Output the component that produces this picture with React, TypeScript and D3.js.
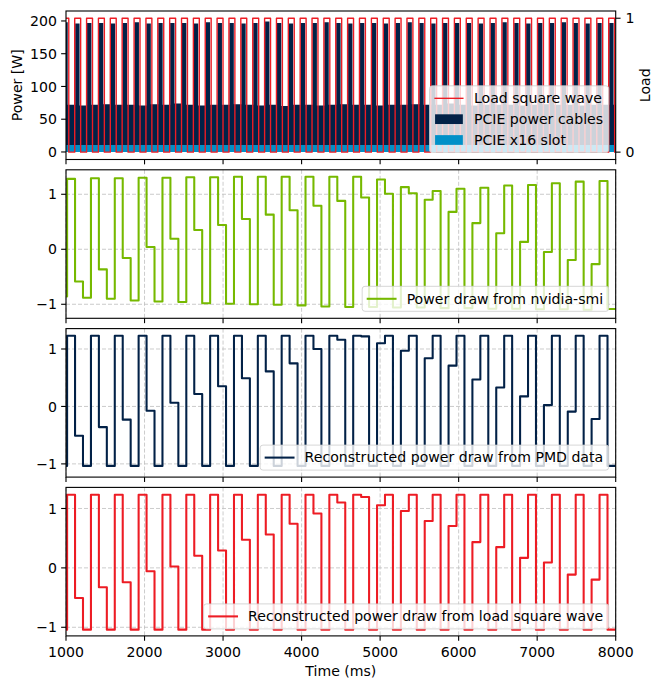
import React from "react";
import * as d3 from "d3";

// ---- data ----
const X_TICKS = [1000, 2000, 3000, 4000, 5000, 6000, 7000, 8000];
const POWER_TICKS = [0, 50, 100, 150, 200];
const LOAD_TICKS = [0, 1];
const NORM_TICKS = [-1, 0, 1];

// load square wave: rising edges (ms), each pulse stays on LOAD_ON_MS
const LOAD_RISE_MS = [
  960, 1111, 1262, 1413, 1564, 1715, 1867, 2018, 2169, 2320,
  2471, 2622, 2773, 2924, 3075, 3226, 3378, 3529, 3680, 3831,
  3982, 4133, 4284, 4435, 4586, 4737, 4889, 5040, 5191, 5342,
  5493, 5644, 5795, 5946, 6097, 6248, 6400, 6551, 6702, 6853,
  7004, 7155, 7306, 7457, 7608, 7759, 7911,
];
const LOAD_ON_MS = 75.5;

// PCIE cable power, plateau per pulse and idle level after it (W)
const CABLE_HIGH_W = [
  198, 196, 197, 197, 196, 197, 198, 196, 197, 197,
  197, 196, 198, 197, 197, 196, 197, 199, 197, 196,
  197, 197, 198, 197, 196, 197, 197, 196, 197, 198,
  197, 196, 197, 197, 197, 196, 197, 198, 197, 196,
  197, 197, 198, 197, 196, 197, 197,
];
const CABLE_LOW_W = [
  72, 71, 72, 73, 72, 72, 71, 73, 72, 74,
  72, 71, 72, 72, 73, 72, 71, 72, 70, 72,
  72, 71, 72, 73, 72, 72, 71, 72, 72, 73,
  72, 72, 74, 72, 71, 72, 72, 72, 71, 72,
  73, 72, 72, 71, 72, 72, 72,
];
const SLOT_W = 10.6;

// normalised 100 ms samples
const SAMPLE_START_MS = 912.8;
const SAMPLE_MS = 101.2;

const SMI = [
  -0.86,
  1.28, -0.585, -0.88, 1.29, -0.366, -0.9, 1.29, -0.16, -0.93,
  1.3, 0.04, -0.95, 1.3, 0.19, -0.96, 1.31, 0.35, -0.98,
  1.31, 0.44, -0.99, 1.32, 0.55, -1.0, 1.32, 0.63, -1.01,
  1.32, 0.71, -1.02, 1.32, 0.79, -1.04, 1.32, 0.88, -1.05,
  1.32, 0.94, -1.05, 1.27, 1.01, -1.06, 1.13, 1.02, -1.06,
  0.9, 1.06, -1.07, 0.68, 1.1, -1.07, 0.476, 1.12, -1.08,
  0.29, 1.16, -1.08, 0.134, 1.17, -1.09, -0.05, 1.2, -1.09,
  -0.195, 1.23, -1.1, -0.27, 1.24, -1.085,
];
const PMD = [
  -1.035,
  1.23, -0.51, -1.035, 1.23, -0.36, -1.035, 1.23, -0.23, -1.035,
  1.23, -0.076, -1.035, 1.23, 0.064, -1.035, 1.23, 0.216, -1.035,
  1.23, 0.35, -1.035, 1.23, 0.49, -1.035, 1.23, 0.61, -1.035,
  1.23, 0.75, -1.035, 1.23, 1.0, -1.035, 1.23, 1.16, -1.035,
  1.23, 1.22, -1.035, 1.1, 1.23, -1.035, 0.97, 1.23, -1.035,
  0.84, 1.23, -1.035, 0.71, 1.23, -1.035, 0.47, 1.23, -1.035,
  0.33, 1.23, -1.035, 0.175, 1.23, -1.035, 0.023, 1.23, -1.035,
  -0.09, 1.23, -1.035, -0.22, 1.23, -1.035,
];
const SQUARE = [
  -1.04,
  1.23, -0.507, -1.04, 1.23, -0.327, -1.04, 1.23, -0.242, -1.04,
  1.23, -0.056, -1.04, 1.23, 0.023, -1.04, 1.23, 0.203, -1.04,
  1.23, 0.293, -1.04, 1.23, 0.473, -1.04, 1.23, 0.563, -1.04,
  1.23, 0.744, -1.04, 1.23, 0.915, -1.04, 1.23, 1.1, -1.04,
  1.23, 1.194, -1.04, 1.054, 1.23, -1.04, 0.958, 1.23, -1.04,
  0.789, 1.23, -1.04, 0.704, 1.23, -1.04, 0.434, 1.23, -1.04,
  0.349, 1.23, -1.04, 0.169, 1.23, -1.04, 0.09, 1.23, -1.04,
  -0.113, 1.23, -1.04, -0.197, 1.23, -1.04,
];

// ---- styling / layout ----
const FS = 13.89; // legend metrics
const TFS = 14.1; // text size
const FONT = "DejaVu Sans";
const RED = "#ed1c24";
const NAVY = "#022147";
const CYAN = "#0090c8";
const GREEN = "#76b900";
const X0 = 66;
const X1 = 615.7;
const PANEL_TOP = [11, 169.8, 328.6, 487.4];
const PANEL_H = 148.5;
const TICK = 4.86;

let ctx: CanvasRenderingContext2D | null = null;
function textWidth(s: string) {
  if (!ctx) ctx = document.createElement("canvas").getContext("2d");
  if (!ctx) return s.length * TFS * 0.6;
  ctx.font = `${TFS}px "${FONT}"`;
  return ctx.measureText(s).width;
}

type Item = { label: string; kind: "line" | "patch"; color: string; width?: number };

function Legend({ items, right, bottom }: { items: Item[]; right: number; bottom: number }) {
  const pad = 0.4 * FS, handle = 2 * FS, gap = 0.8 * FS, spacing = 0.5 * FS;
  const tw = Math.max(...items.map((i) => textWidth(i.label)));
  const w = pad + handle + gap + tw + pad;
  const h = 2 * pad + items.length * FS + (items.length - 1) * spacing;
  const x = right - w;
  const y = bottom - h;
  return (
    <g>
      <rect x={x} y={y} width={w} height={h} rx={2.8} fill="#fff" fillOpacity={0.8}
        stroke="#cccccc" strokeOpacity={0.8} strokeWidth={1} />
      {items.map((it, i) => {
        const cy = y + pad + FS / 2 + i * (FS + spacing);
        return (
          <g key={it.label}>
            {it.kind === "line" ? (
              <line x1={x + pad} x2={x + pad + handle} y1={cy} y2={cy} stroke={it.color}
                strokeWidth={it.width} strokeLinecap="square" />
            ) : (
              <rect x={x + pad} y={cy - 0.35 * FS} width={handle} height={0.7 * FS} fill={it.color} />
            )}
            <text x={x + pad + handle + gap} y={cy + 0.34 * TFS} fontSize={TFS}>{it.label}</text>
          </g>
        );
      })}
    </g>
  );
}

export default function App() {
  const x = d3.scaleLinear().domain([1000, 8000]).range([X0, X1]);
  const t0 = PANEL_TOP[0];
  const b0 = t0 + PANEL_H;
  const yPow = d3.scaleLinear().domain([-11.5, 215.2]).range([b0, t0]);
  const yLoad = d3.scaleLinear().domain([-0.055, 1.054]).range([b0, t0]);

  // top panel series
  const cablePts: [number, number][] = [[900, CABLE_LOW_W[0]]];
  LOAD_RISE_MS.forEach((r, k) => {
    cablePts.push([r + 6, CABLE_HIGH_W[k]]);
    cablePts.push([r + 62, CABLE_LOW_W[k]]);
  });
  cablePts.push([8000, CABLE_LOW_W[CABLE_LOW_W.length - 1]]);
  const cableArea = d3.area<[number, number]>().curve(d3.curveStepAfter)
    .x((d) => x(d[0])).y0(yPow(0)).y1((d) => yPow(d[1]));
  const slotArea = d3.area<number>().x((d) => x(d)).y0(yPow(0)).y1(yPow(SLOT_W));

  const loadPts: [number, number][] = [];
  LOAD_RISE_MS.forEach((r) => {
    loadPts.push([r, 1]);
    loadPts.push([r + LOAD_ON_MS, 0]);
  });
  loadPts.push([8000, 0]);
  const loadLine = d3.line<[number, number]>().curve(d3.curveStepAfter)
    .x((d) => x(d[0])).y((d) => yLoad(d[1]));

  const panels = [
    { data: SMI, color: GREEN, label: "Power draw from nvidia-smi", domain: [-1.255, 1.445] },
    { data: PMD, color: NAVY, label: "Reconstructed power draw from PMD data", domain: [-1.23, 1.355] },
    { data: SQUARE, color: RED, label: "Reconstructed power draw from load square wave", domain: [-1.145, 1.355] },
  ];

  const frame = (top: number) => (
    <rect x={X0} y={top} width={X1 - X0} height={PANEL_H} fill="none" stroke="#000" strokeWidth={1.11} />
  );
  const xTicks = (top: number, labels: boolean) => (
    <g>
      {X_TICKS.map((t) => (
        <g key={t}>
          <line x1={x(t)} x2={x(t)} y1={top + PANEL_H} y2={top + PANEL_H + TICK} stroke="#000" strokeWidth={1.11} />
          {labels && (
            <text x={x(t)} y={top + PANEL_H + 21.2} fontSize={TFS} textAnchor="middle">{t}</text>
          )}
        </g>
      ))}
    </g>
  );

  return (
    <svg width={664} height={690} style={{ position: "absolute", left: 0, top: 0 }}
      fontFamily={FONT} fill="#000">
      <defs>
        {PANEL_TOP.map((top, i) => (
          <clipPath id={`clip${i}`} key={i}>
            <rect x={X0} y={top} width={X1 - X0} height={PANEL_H} />
          </clipPath>
        ))}
      </defs>
      <rect width={664} height={690} fill="#fff" />

      {/* top panel */}
      <g clipPath="url(#clip0)">
        <path d={cableArea(cablePts) ?? ""} fill={NAVY} />
        <path d={slotArea([1000, 8000]) ?? ""} fill={CYAN} />
        <path d={loadLine(loadPts) ?? ""} fill="none" stroke={RED} strokeWidth={1.39} strokeLinejoin="round" />
      </g>
      {frame(t0)}
      {xTicks(t0, false)}
      {POWER_TICKS.map((v) => (
        <g key={v}>
          <line x1={X0 - TICK} x2={X0} y1={yPow(v)} y2={yPow(v)} stroke="#000" strokeWidth={1.11} />
          <text x={X0 - 9} y={yPow(v) + 0.36 * TFS} fontSize={TFS} textAnchor="end">{v}</text>
        </g>
      ))}
      {LOAD_TICKS.map((v) => (
        <g key={v}>
          <line x1={X1} x2={X1 + TICK} y1={yLoad(v)} y2={yLoad(v)} stroke="#000" strokeWidth={1.11} />
          <text x={X1 + 9.7} y={yLoad(v) + 0.36 * TFS} fontSize={TFS}>{v}</text>
        </g>
      ))}
      <text transform={`translate(17,${t0 + PANEL_H / 2}) rotate(-90)`} fontSize={TFS}
        textAnchor="middle" dominantBaseline="central">Power [W]</text>
      <text transform={`translate(645,${t0 + PANEL_H / 2}) rotate(-90)`} fontSize={TFS}
        textAnchor="middle" dominantBaseline="central">Load</text>
      <Legend right={X1 - 7} bottom={b0 - 7} items={[
        { label: "Load square wave", kind: "line", color: RED, width: 1.39 },
        { label: "PCIE power cables", kind: "patch", color: NAVY },
        { label: "PCIE x16 slot", kind: "patch", color: CYAN },
      ]} />

      {/* normalised panels */}
      {panels.map((p, i) => {
        const top = PANEL_TOP[i + 1];
        const bottom = top + PANEL_H;
        const y = d3.scaleLinear().domain(p.domain).range([bottom, top]);
        const pts: [number, number][] = p.data.map((v, j) => [SAMPLE_START_MS + j * SAMPLE_MS, v]);
        pts.push([8000, p.data[p.data.length - 1]]);
        const line = d3.line<[number, number]>().curve(d3.curveStepAfter)
          .x((d) => x(d[0])).y((d) => y(d[1]));
        return (
          <g key={p.label}>
            <g stroke="#b0b0b0" strokeWidth={0.8} strokeDasharray="4,2" opacity={0.8}>
              {X_TICKS.map((t) => <line key={t} x1={x(t)} x2={x(t)} y1={top} y2={bottom} />)}
              {NORM_TICKS.map((v) => <line key={v} x1={X0} x2={X1} y1={y(v)} y2={y(v)} />)}
            </g>
            <g clipPath={`url(#clip${i + 1})`}>
              <path d={line(pts) ?? ""} fill="none" stroke={p.color} strokeWidth={2.08} strokeLinejoin="round" />
            </g>
            {frame(top)}
            {xTicks(top, i === 2)}
            {NORM_TICKS.map((v) => (
              <g key={v}>
                <line x1={X0 - TICK} x2={X0} y1={y(v)} y2={y(v)} stroke="#000" strokeWidth={1.11} />
                <text x={X0 - 9} y={y(v) + 0.36 * TFS} fontSize={TFS} textAnchor="end">
                  {v < 0 ? `\u2212${-v}` : v}
                </text>
              </g>
            ))}
            <Legend right={X1 - 7} bottom={bottom - 7} items={[
              { label: p.label, kind: "line", color: p.color, width: 2.08 },
            ]} />
          </g>
        );
      })}
      <text x={(X0 + X1) / 2} y={675.8} fontSize={TFS} textAnchor="middle">Time (ms)</text>
    </svg>
  );
}
